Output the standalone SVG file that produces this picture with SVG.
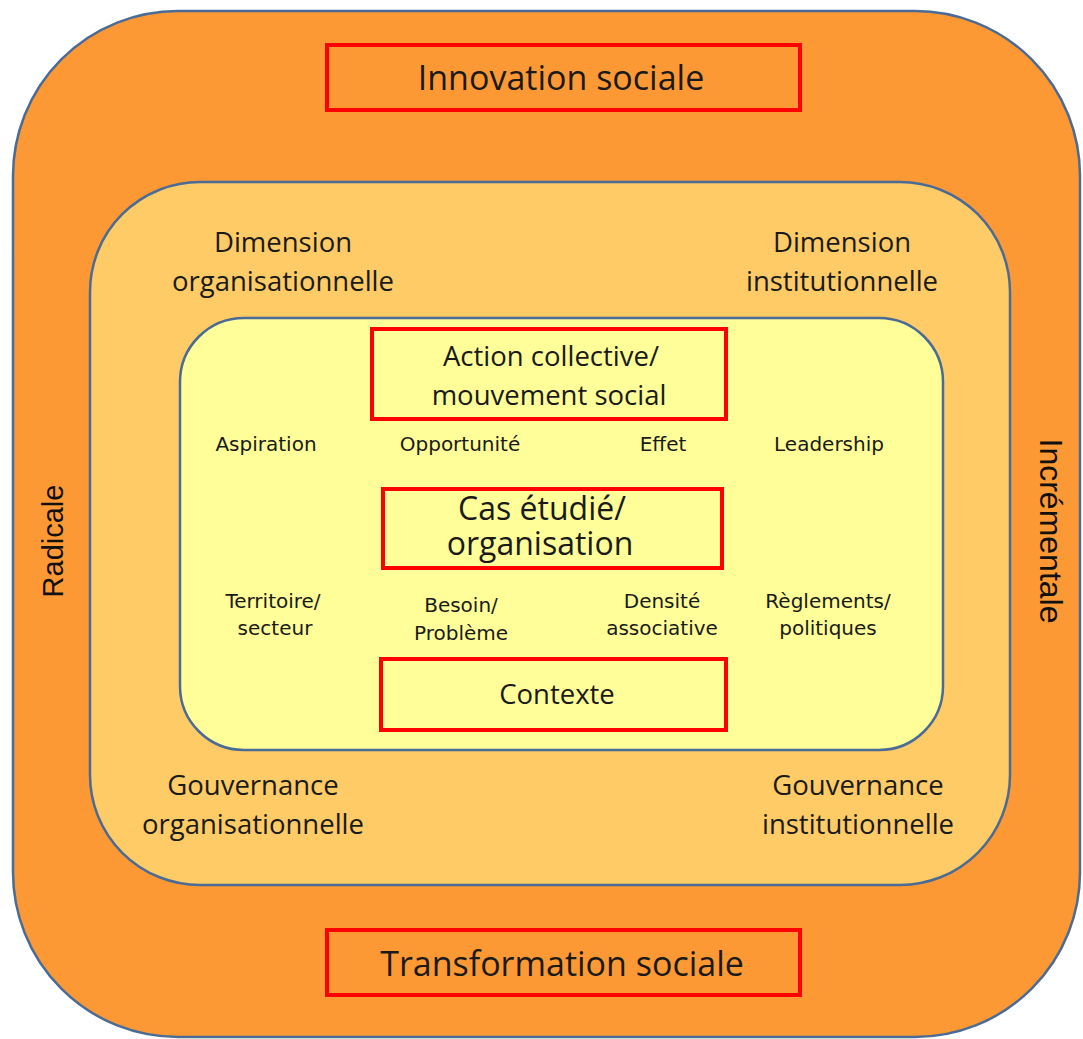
<svg xmlns="http://www.w3.org/2000/svg" width="1083" height="1039" viewBox="0 0 1083 1039">
  <style>
    .ring { stroke: #4A6B96; stroke-width: 2.5; }
    .box { fill: none; stroke: #FF0000; stroke-width: 4; }
    text { font-family: "Open Sans", "Liberation Sans", sans-serif; fill: #1a1a1a; text-anchor: middle; }
    .big { font-size: 34px; }
    .mid { font-size: 27.5px; }
    .cas { font-size: 32px; }
    .side { font-family: "Liberation Sans", Arial, sans-serif; fill: #111; }
    .small { font-family: "DejaVu Sans", "Open Sans", sans-serif; font-size: 20px; }
  </style>

  <!-- nested rounded layers -->
  <g id="layer-outer">
    <rect class="ring" x="13" y="11" width="1067" height="1026" rx="165" ry="165" fill="#FD9935"/>
  </g>
  <g id="layer-middle">
    <rect class="ring" x="90" y="182" width="920" height="703" rx="110" ry="110" fill="#FECB66"/>
  </g>
  <g id="layer-inner">
    <rect class="ring" x="180" y="318" width="763" height="432" rx="64" ry="64" fill="#FFFE99"/>
  </g>

  <!-- outer ring labels -->
  <g id="innovation-sociale">
    <rect class="box" x="327" y="45" width="473" height="65"/>
    <text class="big" x="561" y="90">Innovation sociale</text>
  </g>
  <g id="transformation-sociale">
    <rect class="box" x="327" y="930" width="473" height="65"/>
    <text class="big" x="562" y="976">Transformation sociale</text>
  </g>
  <g id="radicale">
    <text class="side" font-size="29" transform="translate(63 541) rotate(-90)">Radicale</text>
  </g>
  <g id="incrementale">
    <text class="side" font-size="32" transform="translate(1040 531) rotate(90)">Incrémentale</text>
  </g>

  <!-- middle ring labels -->
  <g id="dimension-organisationnelle">
    <text class="mid" x="283" y="252">Dimension</text>
    <text class="mid" x="283" y="291">organisationnelle</text>
  </g>
  <g id="dimension-institutionnelle">
    <text class="mid" x="842" y="252">Dimension</text>
    <text class="mid" x="842" y="291">institutionnelle</text>
  </g>
  <g id="gouvernance-organisationnelle">
    <text class="mid" x="253" y="795">Gouvernance</text>
    <text class="mid" x="253" y="834">organisationnelle</text>
  </g>
  <g id="gouvernance-institutionnelle">
    <text class="mid" x="858" y="795">Gouvernance</text>
    <text class="mid" x="858" y="834">institutionnelle</text>
  </g>

  <!-- inner core -->
  <g id="action-collective">
    <rect class="box" x="372" y="329" width="354" height="90" stroke-width="3"/>
    <text class="mid" x="551" y="366" font-size="28.5">Action collective/</text>
    <text class="mid" x="549" y="405">mouvement social</text>
  </g>
  <g id="aspiration"><text class="small" x="266" y="451">Aspiration</text></g>
  <g id="opportunite"><text class="small" x="460" y="451">Opportunité</text></g>
  <g id="effet"><text class="small" x="663" y="451">Effet</text></g>
  <g id="leadership"><text class="small" x="829" y="451">Leadership</text></g>

  <g id="cas-etudie">
    <rect class="box" x="383" y="489" width="339" height="79" stroke-width="3"/>
    <text class="cas" x="542" y="520">Cas étudié/</text>
    <text class="cas" x="540" y="555">organisation</text>
  </g>

  <g id="territoire">
    <text class="small" x="273" y="608">Territoire/</text>
    <text class="small" x="275" y="635">secteur</text>
  </g>
  <g id="besoin">
    <text class="small" x="461" y="612">Besoin/</text>
    <text class="small" x="461" y="640">Problème</text>
  </g>
  <g id="densite">
    <text class="small" x="662" y="608">Densité</text>
    <text class="small" x="662" y="635">associative</text>
  </g>
  <g id="reglements">
    <text class="small" x="828" y="608">Règlements/</text>
    <text class="small" x="828" y="635">politiques</text>
  </g>

  <g id="contexte">
    <rect class="box" x="381" y="659" width="345" height="71" stroke-width="3"/>
    <text class="mid" x="557" y="704">Contexte</text>
  </g>
</svg>
